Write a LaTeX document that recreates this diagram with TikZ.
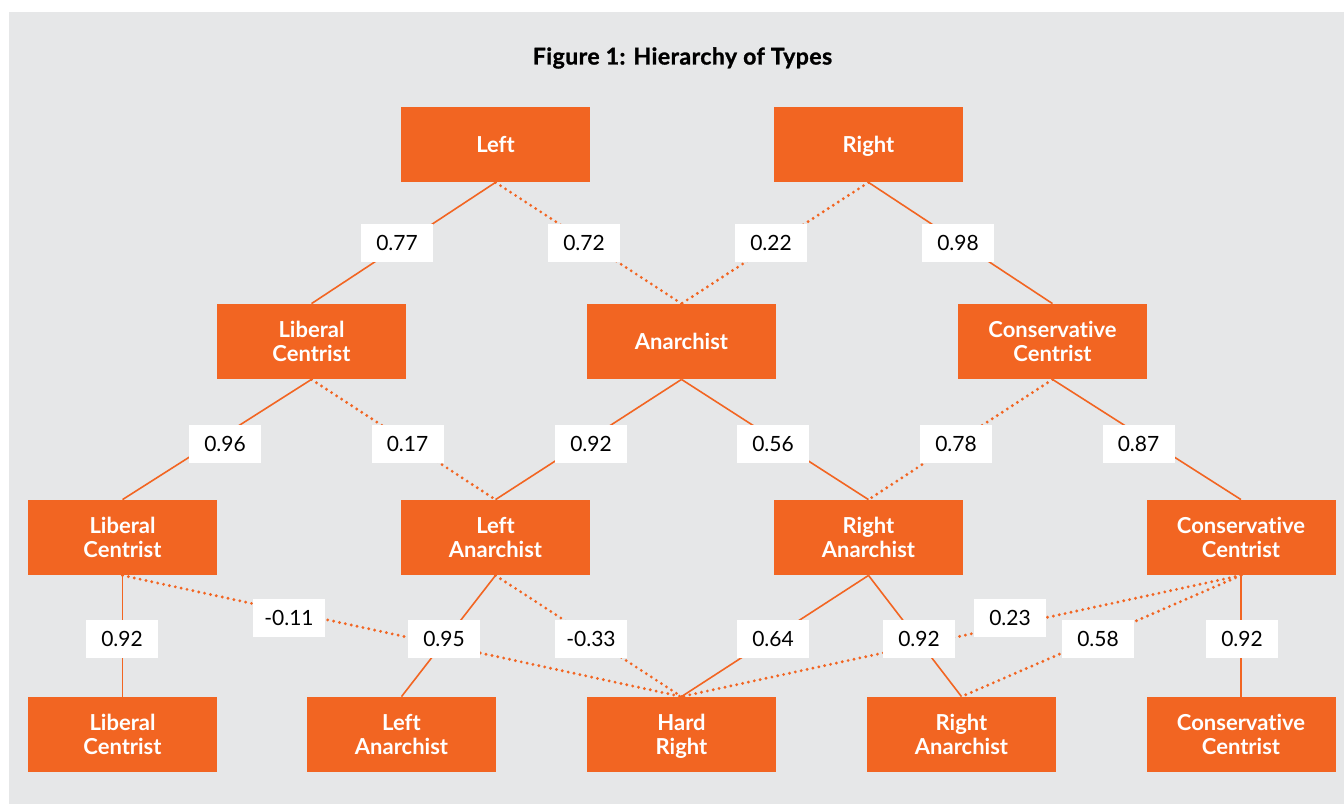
\documentclass[tikz,border=0pt]{standalone}
\usepackage{fontspec}
\setmainfont{Lato}[Ligatures=NoCommon]
\newfontfamily\hottitlefont{Lato}[BoldFeatures={FakeBold=1.2},LetterSpace=2]
\usepackage{xcolor}
\definecolor{hotpanel}{HTML}{E6E7E8}
\definecolor{hotorange}{HTML}{F26522}
\tikzset{
  hotbox/.style={fill=hotorange,text=white,minimum width=94.5pt,minimum height=37.5pt,inner sep=0pt,align=center,font=\fontsize{11}{12}\selectfont\bfseries},
  hotflat/.style={text depth=0pt},
  hotlabel/.style={fill=white,text=black,minimum width=36pt,minimum height=19pt,inner sep=0pt,font=\fontsize{10.5}{12}\selectfont},
  hotsolid/.style={draw=hotorange,line width=0.8pt},
  hotdot/.style={draw=hotorange,line width=1.6pt,dash pattern=on 0pt off 3pt,line cap=round},
  hottitle/.style={font=\hottitlefont\fontsize{11.5}{13}\selectfont\bfseries},
}

\begin{document}
\begin{tikzpicture}[x=0.5pt,y=-0.5pt]
\useasboundingbox (0,0) rectangle (1344,804);
\fill[hotpanel] (9,12) rectangle (1344,804);
\node[hottitle] (title) at (682.5,58) {Figure 1: Hierarchy of Types};
% top level
\node[hotbox] (left) at (495.5,144.5) {Left};
\node[hotbox,hotflat] (right) at (868.5,144.5) {Right};
% second level
\node[hotbox] (libc) at (311.5,341.5) {Liberal\\Centrist};
\node[hotbox] (anar) at (681.5,341.5) {Anarchist};
\node[hotbox] (consc) at (1052.5,341.5) {Conservative\\Centrist};
% third level
\node[hotbox] (libcb) at (122.5,537.5) {Liberal\\Centrist};
\node[hotbox] (lanb) at (495.5,537.5) {Left\\Anarchist};
\node[hotbox] (ranb) at (868.5,537.5) {Right\\Anarchist};
\node[hotbox] (conscb) at (1241,537.5) {Conservative\\Centrist};
% bottom level
\node[hotbox] (libcc) at (122.5,734.5) {Liberal\\Centrist};
\node[hotbox] (lanc) at (401.5,734.5) {Left\\Anarchist};
\node[hotbox,hotflat] (hardr) at (681.5,734.5) {Hard\\Right};
\node[hotbox] (ranc) at (961.5,734.5) {Right\\Anarchist};
\node[hotbox] (conscc) at (1241,734.5) {Conservative\\Centrist};
% links, top to second
\draw[hotsolid](left.south)--(libc.north);
\draw[hotdot](left.south)--(anar.north);
\draw[hotdot](right.south)--(anar.north);
\draw[hotsolid](right.south)--(consc.north);
% second to third
\draw[hotsolid](libc.south)--(libcb.north);
\draw[hotdot](libc.south)--(lanb.north);
\draw[hotsolid](anar.south)--(lanb.north);
\draw[hotsolid](anar.south)--(ranb.north);
\draw[hotdot](consc.south)--(ranb.north);
\draw[hotsolid](consc.south)--(conscb.north);
% third to bottom
\draw[hotsolid](libcb.south)--(libcc.north);
\draw[hotdot](libcb.south)--(hardr.north);
\draw[hotsolid](lanb.south)--(lanc.north);
\draw[hotdot](lanb.south)--(hardr.north);
\draw[hotsolid](ranb.south)--(hardr.north);
\draw[hotsolid](ranb.south)--(ranc.north);
\draw[hotdot](conscb.south)--(hardr.north);
\draw[hotdot](conscb.south)--(ranc.north);
\draw[hotsolid](conscb.south)--(conscc.north);
% weights, drawn last so they cover the links
\node[hotlabel] (w1) at (397,243) {0.77};
\node[hotlabel] (w2) at (584,243) {0.72};
\node[hotlabel] (w3) at (771,243) {0.22};
\node[hotlabel] (w4) at (958,243) {0.98};
\node[hotlabel] (w5) at (225,444) {0.96};
\node[hotlabel] (w6) at (407.5,444) {0.17};
\node[hotlabel] (w7) at (591,444) {0.92};
\node[hotlabel] (w8) at (773,444) {0.56};
\node[hotlabel] (w9) at (956,444) {0.78};
\node[hotlabel] (w10) at (1138.5,444) {0.87};
\node[hotlabel] (w11) at (122,639) {0.92};
\node[hotlabel] (w12) at (289,618) {-0.11};
\node[hotlabel] (w13) at (444,639) {0.95};
\node[hotlabel] (w14) at (591,639) {-0.33};
\node[hotlabel] (w15) at (773,639) {0.64};
\node[hotlabel] (w16) at (919,639) {0.92};
\node[hotlabel] (w17) at (1010,618) {0.23};
\node[hotlabel] (w18) at (1098,639) {0.58};
\node[hotlabel] (w19) at (1242,639) {0.92};
\end{tikzpicture}
\end{document}
